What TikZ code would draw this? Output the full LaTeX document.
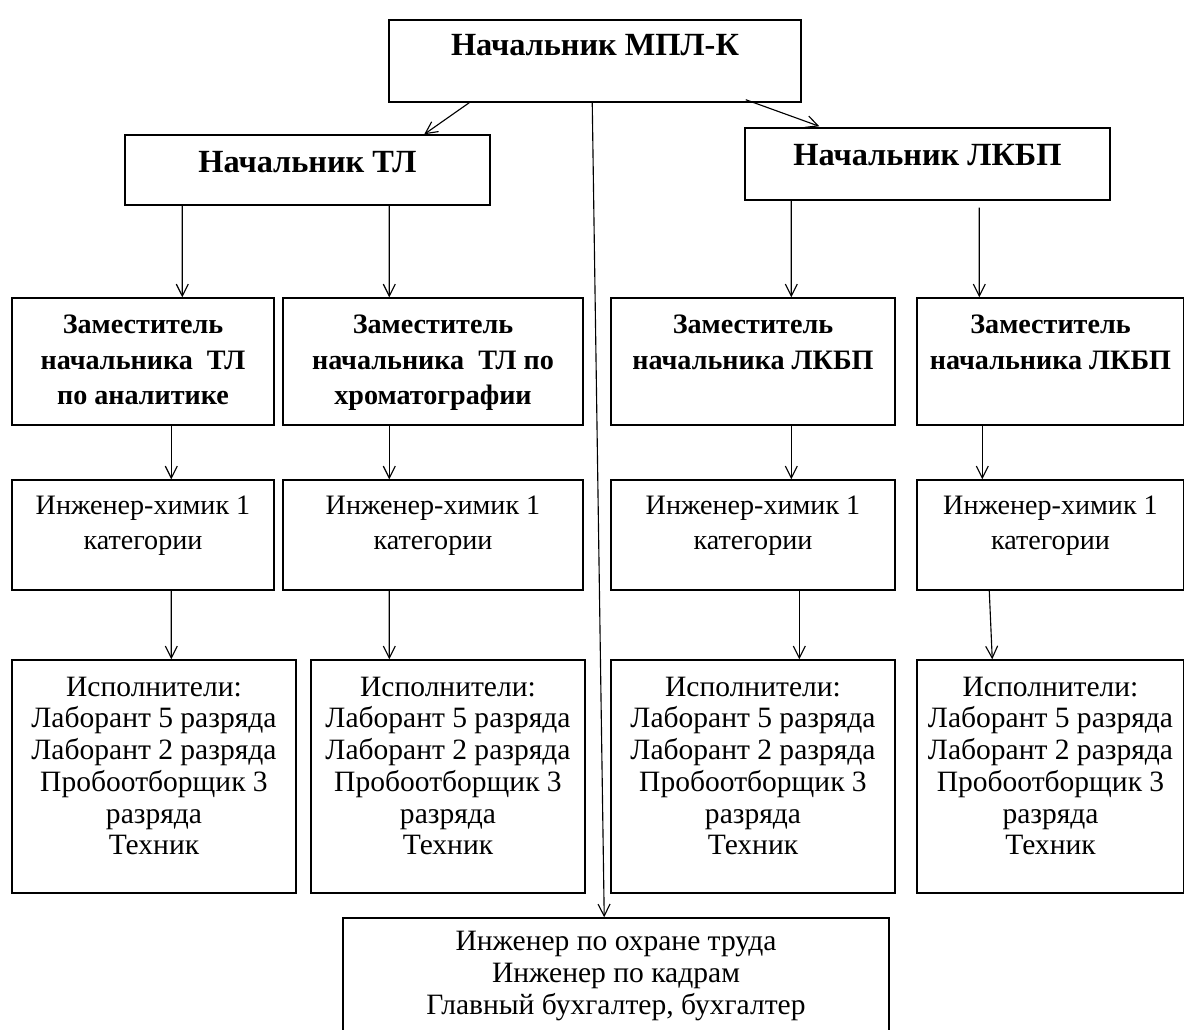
\documentclass[tikz,border=0pt]{standalone}
\usepackage{fontspec}
\setmainfont{Liberation Serif}
\usetikzlibrary{positioning, calc, arrows.meta}

\tikzset{
    box/.style={draw, line width=1pt, inner sep=0pt},
    head/.style={font=\bfseries\fontsize{23}{27}\selectfont, inner sep=0pt},
    sub/.style={font=\bfseries\fontsize{20}{25.5}\selectfont, align=center, inner sep=0pt},
    txt/.style={font=\fontsize{20}{25}\selectfont, align=center, inner sep=0pt},
    list/.style={font=\fontsize{21}{22.6}\selectfont, align=center, inner sep=0pt},
    arr/.style={-{Straight Barb[length=0.3cm, width=0.3cm]}, line width=0.8pt},
}

\begin{document}
\begin{tikzpicture}[x=0.025cm, y=-0.025cm]
        \useasboundingbox (0,0) rectangle (1184,1030);

        % heads
        \node[box, minimum width=10.3cm,  minimum height=2.05cm] (M) at (595,61)    {};
        \node[box, minimum width=9.125cm, minimum height=1.75cm] (T) at (307.5,170) {};
        \node[box, minimum width=9.125cm, minimum height=1.8cm]  (L) at (927.5,164) {};

        \node[head, below=0.38cm of M.north]  (Mt) {Начальник МПЛ-К};
        \node[head, below=0.425cm of T.north] (Tt) {Начальник ТЛ};
        \node[head, below=0.425cm of L.north] (Lt) {Начальник ЛКБП};

        % deputies
        \node[box, minimum width=6.55cm,  minimum height=3.175cm] (Z1) at (143,361.5)    {};
        \node[box, minimum width=7.5cm,   minimum height=3.175cm] (Z2) at (433,361.5)    {};
        \node[box, minimum width=7.1cm,   minimum height=3.175cm] (Z3) at (753,361.5)    {};
        \node[box, minimum width=6.675cm, minimum height=3.175cm] (Z4) at (1050.5,361.5) {};

        \node[sub, below=0.425cm of Z1.north] (Z1t) {Заместитель\\начальника~ ТЛ\\по аналитике};
        \node[sub, below=0.425cm of Z2.north] (Z2t) {Заместитель\\начальника~ ТЛ по\\хроматографии};
        \node[sub, below=0.425cm of Z3.north] (Z3t) {Заместитель\\начальника ЛКБП};
        \node[sub, below=0.425cm of Z4.north] (Z4t) {Заместитель\\начальника ЛКБП};

        % engineers
        \node[box, minimum width=6.55cm,  minimum height=2.75cm] (H1) at (143,535)    {};
        \node[box, minimum width=7.5cm,   minimum height=2.75cm] (H2) at (433,535)    {};
        \node[box, minimum width=7.1cm,   minimum height=2.75cm] (H3) at (753,535)    {};
        \node[box, minimum width=6.675cm, minimum height=2.75cm] (H4) at (1050.5,535) {};

        \node[txt, below=0.41cm of H1.north] (H1t) {Инженер-химик 1\\категории};
        \node[txt, below=0.41cm of H2.north] (H2t) {Инженер-химик 1\\категории};
        \node[txt, below=0.41cm of H3.north] (H3t) {Инженер-химик 1\\категории};
        \node[txt, below=0.41cm of H4.north] (H4t) {Инженер-химик 1\\категории};

        % staff
        \node[box, minimum width=7.1cm,   minimum height=5.825cm] (I1) at (154,776.5)    {};
        \node[box, minimum width=6.85cm,  minimum height=5.825cm] (I2) at (448,776.5)    {};
        \node[box, minimum width=7.1cm,   minimum height=5.825cm] (I3) at (753,776.5)    {};
        \node[box, minimum width=6.675cm, minimum height=5.825cm] (I4) at (1050.5,776.5) {};

        \node[list, below=0.43cm of I1.north] (I1t) {Исполнители:\\Лаборант 5 разряда\\Лаборант 2 разряда\\Пробоотборщик 3\\разряда\\Техник};
        \node[list, below=0.43cm of I2.north] (I2t) {Исполнители:\\Лаборант 5 разряда\\Лаборант 2 разряда\\Пробоотборщик 3\\разряда\\Техник};
        \node[list, below=0.43cm of I3.north] (I3t) {Исполнители:\\Лаборант 5 разряда\\Лаборант 2 разряда\\Пробоотборщик 3\\разряда\\Техник};
        \node[list, below=0.43cm of I4.north] (I4t) {Исполнители:\\Лаборант 5 разряда\\Лаборант 2 разряда\\Пробоотборщик 3\\разряда\\Техник};

        % service staff
        \node[box, minimum width=13.65cm, minimum height=3.25cm] (O) at (616,983) {};
        \node[list, below=0.35cm of O.north] (Ot) {Инженер по охране труда\\Инженер по кадрам\\Главный бухгалтер, бухгалтер};

        \draw[arr] ($(M.south west)+(81,0)$)   -- ($(T.north west)+(300,0)$);
        \draw[arr] ($(M.south east)+(-56,-3)$) -- ($(L.north west)+(75,-1)$);
        \draw[arr] ($(M.south west)+(204,0)$)  -- ($(O.north west)+(262,0)$);

        \draw[arr] ($(T.south west)+(58,0)$)   -- ($(Z1.north west)+(171,0)$);
        \draw[arr] ($(T.south west)+(265,0)$)  -- ($(Z2.north west)+(107,0)$);
        \draw[arr] ($(L.south west)+(47,0)$)   -- ($(Z3.north west)+(181,0)$);
        \draw[arr] ($(L.south west)+(235,7)$)  -- ($(Z4.north west)+(63,0)$);

        \draw[arr] ($(Z1.south west)+(160,0)$) -- ($(H1.north west)+(160,0)$);
        \draw[arr] ($(Z2.south west)+(107,0)$) -- ($(H2.north west)+(107,0)$);
        \draw[arr] ($(Z3.south west)+(181,0)$) -- ($(H3.north west)+(181,0)$);
        \draw[arr] ($(Z4.south west)+(66,0)$)  -- ($(H4.north west)+(66,0)$);

        \draw[arr] ($(H1.south west)+(160,0)$) -- ($(I1.north west)+(160,0)$);
        \draw[arr] ($(H2.south west)+(107,0)$) -- ($(I2.north west)+(79,0)$);
        \draw[arr] ($(H3.south west)+(189,0)$) -- ($(I3.north west)+(189,0)$);
        \draw[arr] ($(H4.south west)+(73,0)$)  -- ($(I4.north west)+(76,0)$);
    \end{tikzpicture}
\end{document}
